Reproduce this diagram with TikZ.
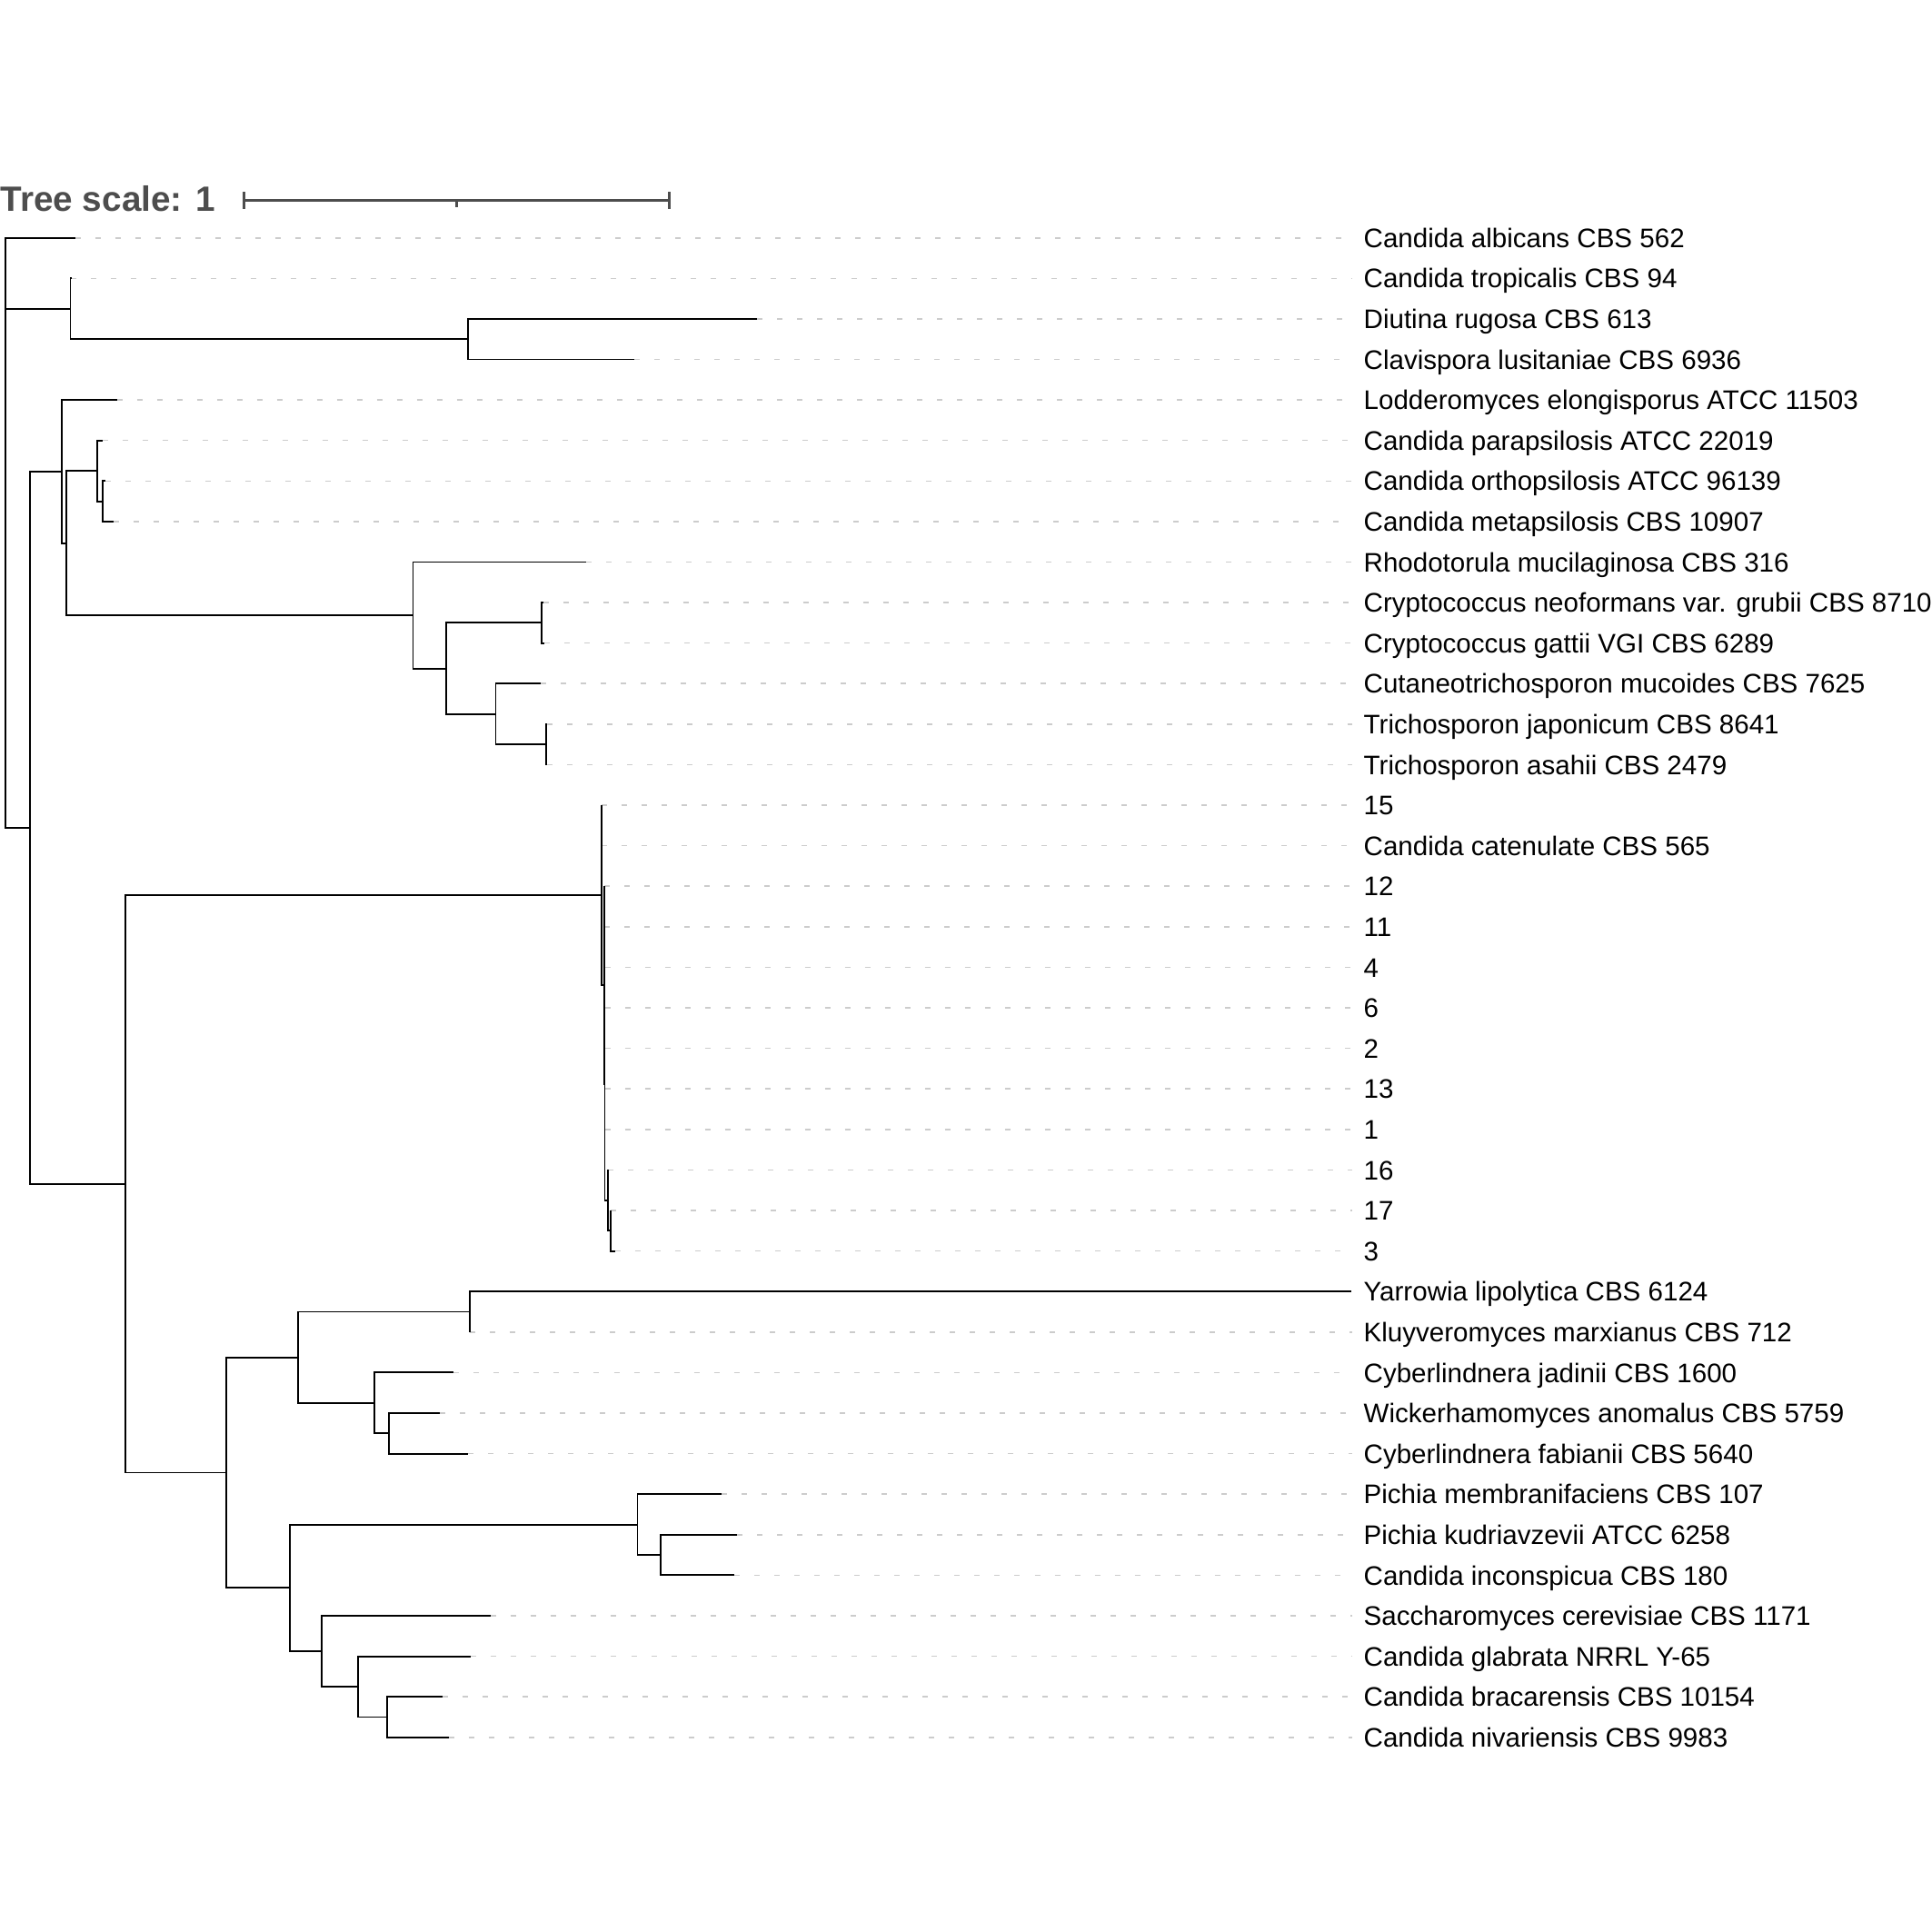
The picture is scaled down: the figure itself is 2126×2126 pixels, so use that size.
\documentclass[tikz,border=0pt]{standalone}
\usepackage{fontspec}
\setmainfont{Liberation Sans}
\definecolor{scalegray}{HTML}{4D4D4D}
\definecolor{dashgray}{HTML}{CCCCCC}
\begin{document}
\begin{tikzpicture}[x=0.01cm,y=-0.01cm,
  br/.style={line width=0.55pt, black},
  dsh/.style={draw=dashgray, line width=0.45pt, dash pattern=on 0.06cm off 0.16cm},
  lab/.style={anchor=base west, inner sep=0pt, font=\fontsize{8.4pt}{10pt}\selectfont},
  sbar/.style={draw=scalegray, line width=0.8pt},
  ]
\useasboundingbox (0,0) rectangle (2126,2126);

% scale
\node[anchor=base west, inner sep=0pt, text=scalegray, font=\bfseries\fontsize{11pt}{13pt}\selectfont] (ts) at (0,232) {Tree scale: 1};
\coordinate (sb1) at (268.5,220.7);
\coordinate (sb2) at (736.3,220.7);
\coordinate (sbm) at (502.4,220.7);
\draw[sbar] (sb1) -- (sb2);
\draw[sbar] ([yshift=0.095cm]sb1) -- ([yshift=-0.095cm]sb1);
\draw[sbar] ([yshift=0.095cm]sb2) -- ([yshift=-0.095cm]sb2);
\draw[sbar] (sbm) -- ([yshift=-0.07cm]sbm);

% leaves
\foreach \i/\tx/\txt in {
 0/82.7/Candida albicans CBS 562,
 1/78/Candida tropicalis CBS 94,
 2/833/Diutina rugosa CBS 613,
 3/698/Clavispora lusitaniae CBS 6936,
 4/128.5/Lodderomyces elongisporus ATCC 11503,
 5/112.5/Candida parapsilosis ATCC 22019,
 6/116/Candida orthopsilosis ATCC 96139,
 7/124.7/Candida metapsilosis CBS 10907,
 8/645/Rhodotorula mucilaginosa CBS 316,
 9/597.5/Cryptococcus neoformans var. grubii CBS 8710,
 10/599/Cryptococcus gattii VGI CBS 6289,
 11/594.6/Cutaneotrichosporon mucoides CBS 7625,
 12/602/Trichosporon japonicum CBS 8641,
 13/602/Trichosporon asahii CBS 2479,
 14/661.7/15,
 15/661.7/Candida catenulate CBS 565,
 16/665/12,
 17/665/11,
 18/665.5/4,
 19/665.5/6,
 20/665.5/2,
 21/665.5/13,
 22/665.5/1,
 23/669/16,
 24/671.7/17,
 25/676.7/3,
 26/1487.4/Yarrowia lipolytica CBS 6124,
 27/516.7/Kluyveromyces marxianus CBS 712,
 28/499.4/Cyberlindnera jadinii CBS 1600,
 29/484/Wickerhamomyces anomalus CBS 5759,
 30/515/Cyberlindnera fabianii CBS 5640,
 31/794/Pichia membranifaciens CBS 107,
 32/811.2/Pichia kudriavzevii ATCC 6258,
 33/808.3/Candida inconspicua CBS 180,
 34/539.6/Saccharomyces cerevisiae CBS 1171,
 35/518.4/Candida glabrata NRRL Y-65,
 36/486.8/Candida bracarensis CBS 10154,
 37/493.7/Candida nivariensis CBS 9983}{
  \pgfmathsetmacro\yy{261.7+44.597*\i}
  \coordinate (t\i) at (\tx,\yy);
  \coordinate (d\i) at (1488,\yy);
  \node[lab] (l\i) at (1500,\yy+10.6) {\txt};
  \ifnum\i=26\else
    \draw[dsh] (t\i) -- (d\i);
  \fi
}

% internal nodes
\coordinate (root) at (6,586.25);
\coordinate (B) at (77.5,339.75);
\coordinate (D) at (515,373.2);
\coordinate (C) at (32.6,910.8);
\coordinate (E) at (68.3,518.85);
\coordinate (G) at (73,597.6);
\coordinate (I) at (107.3,518.15);
\coordinate (J) at (113.3,551.6);
\coordinate (H) at (454.5,677.05);
\coordinate (K) at (491,735.6);
\coordinate (L) at (596.4,685.4);
\coordinate (M) at (545.5,785.75);
\coordinate (N) at (601.3,819.2);
\coordinate (F) at (138.3,1302.8);
\coordinate (P) at (661.7,985);
\coordinate (Q) at (665,1084);
\coordinate (S) at (665.5,1192.6);
\coordinate (R) at (669,1320.85);
\coordinate (T) at (671.7,1354.3);
\coordinate (O) at (248.6,1620.5);
\coordinate (U) at (328.4,1493.7);
\coordinate (W) at (516.7,1443.5);
\coordinate (X) at (412.2,1543.85);
\coordinate (Y) at (428.3,1577.3);
\coordinate (V) at (318.6,1747.3);
\coordinate (Z) at (701.5,1677.65);
\coordinate (AB) at (727.3,1711.1);
\coordinate (AA) at (354.2,1817);
\coordinate (AC) at (393.8,1856.05);
\coordinate (AD) at (426,1889.5);

% branches
\foreach \p/\c in {root/t0, root/B, root/C,
  B/t1, B/D, D/t2, D/t3,
  C/E, C/F,
  E/t4, E/G, G/I, G/H, I/t5, I/J, J/t6, J/t7,
  H/t8, H/K, K/L, K/M, L/t9, L/t10, M/t11, M/N, N/t12, N/t13,
  F/P, F/O,
  P/t14, P/t15, P/Q, Q/t16, Q/t17, Q/S,
  S/t18, S/t19, S/t20, S/t21, S/t22, S/R, R/t23, R/T, T/t24, T/t25,
  O/U, O/V, U/W, U/X, W/t26, W/t27, X/t28, X/Y, Y/t29, Y/t30,
  V/Z, V/AA, Z/t31, Z/AB, AB/t32, AB/t33,
  AA/t34, AA/AC, AC/t35, AC/AD, AD/t36, AD/t37}{
  \draw[br] (\p) |- (\c);
}
\end{tikzpicture}
\end{document}
